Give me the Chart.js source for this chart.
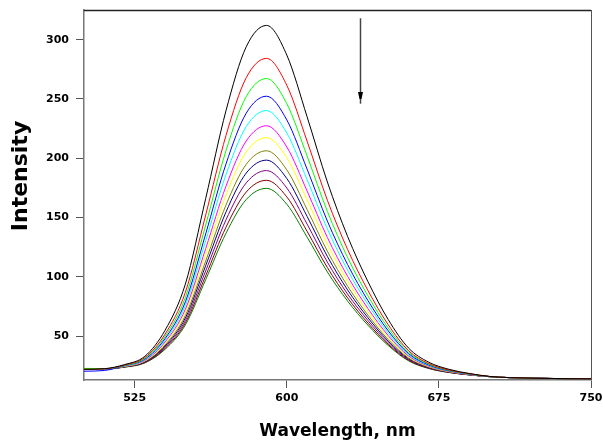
<!DOCTYPE html>
<html>
<head>
<meta charset="utf-8">
<script src="https://cdn.jsdelivr.net/npm/chart.js@4"></script>
<style>
  html, body { margin: 0; padding: 0; background: #fff; }
  #wrap { width: 603px; height: 443px; }
</style>
</head>
<body>
<div id="wrap"><canvas id="lineChart"></canvas></div>
<script>
// wavelength (nm) shared by every spectrum
const wavelengths = [500, 510, 520, 530, 540, 550, 560, 570, 580, 590, 600, 610, 620,
  630, 640, 650, 660, 670, 680, 690, 700, 710, 720, 730, 740, 750];

// emission spectra (top curve first)
const black = [22, 22.5, 26, 33, 55, 94, 166, 240, 294, 312, 287, 235, 180, 134, 96, 64, 40, 28, 22, 18.5, 16, 15, 14.6, 14.3, 14.1, 14];
const red = [22, 22.4, 25.6, 31.9, 51.7, 87.0, 152.1, 219.1, 267.9, 284.2, 261.5, 214.4, 164.6, 123.0, 88.5, 59.6, 37.8, 26.9, 21.4, 18.3, 16.0, 15, 14.6, 14.3, 14.1, 14];
const green = [22.8, 22.6, 25.3, 31.2, 49.8, 82.7, 143.7, 206.3, 252.0, 267.2, 246.0, 201.9, 155.2, 116.2, 84.0, 56.8, 36.5, 26.3, 21.1, 18.1, 15.9, 15, 14.6, 14.3, 14.1, 14];
const blue = [20.4, 21.0, 25.1, 30.6, 48.0, 79.0, 136.2, 195.1, 238.0, 252.3, 232.3, 190.8, 147.0, 110.3, 80.0, 54.5, 35.3, 25.7, 20.8, 18.0, 15.9, 15, 14.6, 14.3, 14.1, 14];
const cyan = [22, 22.3, 24.9, 30.1, 46.6, 76.0, 130.3, 186.1, 226.7, 240.2, 221.3, 182.0, 140.4, 105.5, 76.8, 52.5, 34.3, 25.2, 20.6, 17.9, 15.9, 15, 14.6, 14.3, 14.1, 14];
const magenta = [22, 22.3, 24.7, 29.5, 45.1, 72.7, 123.8, 176.4, 214.6, 227.4, 209.5, 172.4, 133.2, 100.4, 73.3, 50.5, 33.3, 24.7, 20.3, 17.7, 15.9, 15, 14.6, 14.3, 14.1, 14];
const yellow = [22, 22.2, 24.5, 29.1, 43.9, 70.2, 118.9, 168.9, 205.3, 217.4, 200.4, 165.1, 127.7, 96.5, 70.6, 48.9, 32.5, 24.3, 20.1, 17.7, 15.9, 15, 14.6, 14.3, 14.1, 14];
const olive = [22, 22.2, 24.3, 28.7, 42.6, 67.4, 113.3, 160.5, 194.9, 206.3, 190.2, 156.8, 121.6, 92.1, 67.7, 47.1, 31.7, 23.9, 19.9, 17.6, 15.9, 15, 14.6, 14.3, 14.1, 14];
const navy = [22, 22.2, 24.2, 28.3, 41.7, 65.4, 109.4, 154.6, 187.5, 198.4, 182.9, 151.0, 117.2, 88.9, 65.5, 45.8, 31.0, 23.6, 19.7, 17.5, 15.8, 15, 14.6, 14.3, 14.1, 14];
const purple = [22, 22.2, 24.1, 28.0, 40.7, 63.2, 105.0, 148.0, 179.2, 189.6, 174.9, 144.5, 112.4, 85.4, 63.2, 44.4, 30.3, 23.2, 19.6, 17.4, 15.8, 15, 14.6, 14.3, 14.1, 14];
const brown = [22, 22.1, 24.0, 27.7, 39.7, 61.2, 100.9, 141.8, 171.5, 181.4, 167.4, 138.4, 107.8, 82.2, 61.0, 43.1, 29.7, 22.9, 19.4, 17.3, 15.8, 15, 14.6, 14.3, 14.1, 14];
const darkGreen = [22.5, 22.4, 23.8, 27.4, 38.9, 59.5, 97.6, 136.7, 165.2, 174.6, 161.2, 133.5, 104.1, 79.5, 59.2, 42.1, 29.2, 22.7, 19.3, 17.3, 15.8, 15, 14.6, 14.3, 14.1, 14];

const seriesValues = [black, red, green, blue, cyan, magenta, yellow, olive, navy, purple, brown, darkGreen];
const seriesColors = ['#000000', '#ff0000', '#00ff00', '#0000ff', '#00ffff', '#ff00ff',
  '#ffff00', '#808000', '#000080', '#800080', '#800000', '#008000'];

const xTicks = [525, 600, 675, 750];
const yTicks = [50, 100, 150, 200, 250, 300];

// arrow showing the intensity decrease (data units)
const arrowX = 636;
const arrowFrom = 318;
const arrowTo = 246;
const arrowTip = 250;

const datasets = seriesValues.map((vals, i) => ({
  data: wavelengths.map((w, j) => ({ x: w, y: vals[j] })),
  borderColor: seriesColors[i],
  borderWidth: 1,
  pointRadius: 0,
  fill: false,
  cubicInterpolationMode: 'monotone',
}));

const frameAndNotes = {
  id: 'frameAndNotes',
  afterDraw(chart) {
    const { ctx, chartArea: a, scales } = chart;
    ctx.save();
    // top & right frame
    ctx.strokeStyle = '#222';
    ctx.lineWidth = 1.5;
    ctx.beginPath();
    ctx.moveTo(a.left, a.top + 0.5);
    ctx.lineTo(a.right, a.top + 0.5);
    ctx.stroke();
    ctx.strokeStyle = '#555';
    ctx.lineWidth = 1;
    ctx.beginPath();
    ctx.moveTo(a.right + 0.5, a.top);
    ctx.lineTo(a.right + 0.5, a.bottom);
    ctx.stroke();

    // arrow
    const ax = Math.round(scales.x.getPixelForValue(arrowX)) + 0.5;
    const y1 = scales.y.getPixelForValue(arrowFrom);
    const y2 = scales.y.getPixelForValue(arrowTo);
    const yt = scales.y.getPixelForValue(arrowTip);
    ctx.strokeStyle = '#444';
    ctx.lineWidth = 1.5;
    ctx.beginPath();
    ctx.moveTo(ax, y1);
    ctx.lineTo(ax, y2);
    ctx.stroke();
    ctx.fillStyle = '#000';
    ctx.beginPath();
    ctx.moveTo(ax - 2.5, yt - 7);
    ctx.lineTo(ax + 2.5, yt - 7);
    ctx.lineTo(ax + 1, yt);
    ctx.lineTo(ax - 1, yt);
    ctx.closePath();
    ctx.fill();

    // axis titles
    ctx.fillStyle = '#000';
    ctx.textAlign = 'center';
    ctx.textBaseline = 'middle';
    ctx.font = 'bold 17px "DejaVu Sans"';
    ctx.fillText('Wavelength, nm', (a.left + a.right) / 2, a.bottom + 52);
    ctx.translate(21, (a.top + a.bottom) / 2 - 19);
    ctx.rotate(-Math.PI / 2);
    ctx.font = 'bold 22px "DejaVu Sans"';
    ctx.fillText('Intensity', 0, 0);
    ctx.restore();
  },
};

const ctx = document.getElementById('lineChart');

const config = {
  type: 'line',
  data: { datasets: datasets },
  options: {
    responsive: true,
    maintainAspectRatio: false,
    animation: false,
    layout: { padding: { left: 0, right: 12, top: 10, bottom: 0 } },
    plugins: {
      legend: { display: false },
      tooltip: { enabled: false },
    },
    scales: {
      x: {
        type: 'linear',
        min: 500,
        max: 750,
        afterBuildTicks: (s) => { s.ticks = xTicks.map((v) => ({ value: v })); },
        afterFit: (s) => {
          s.height = 63;
          s.paddingLeft = 0;
          s.paddingRight = 0;
        },
        grid: { display: true, drawOnChartArea: false, drawTicks: true, tickLength: 8, color: '#555' },
        border: { display: true, color: '#777', width: 1.5 },
        ticks: {
          color: '#000',
          padding: 4,
          maxRotation: 0,
          font: { family: 'DejaVu Sans', size: 11, weight: 'bold' },
        },
      },
      y: {
        min: 13,
        max: 325,
        afterBuildTicks: (s) => { s.ticks = yTicks.map((v) => ({ value: v })); },
        afterFit: (s) => {
          s.width = 84;
          s.paddingTop = 0;
          s.paddingBottom = 0;
        },
        grid: { display: true, drawOnChartArea: false, drawTicks: true, tickLength: 8, color: '#555' },
        border: { display: true, color: '#777', width: 1.5 },
        ticks: {
          color: '#000',
          padding: 7,
          font: { family: 'DejaVu Sans', size: 11, weight: 'bold' },
        },
      },
    },
  },
  plugins: [frameAndNotes],
};

const myChart = new Chart(ctx, config);
</script>
</body>
</html>
